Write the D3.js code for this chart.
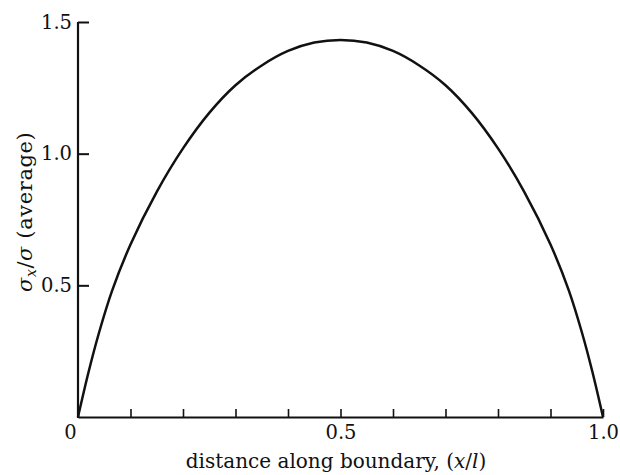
<!DOCTYPE html>
<html>
<head>
<meta charset="utf-8">
<script src="https://cdn.jsdelivr.net/npm/d3@7/dist/d3.min.js"></script>
<style>
  html, body { margin: 0; padding: 0; background: #fff; }
  svg { display: block; }
  text { font-family: "DejaVu Serif", "Liberation Serif", serif; fill: #111; }
</style>
</head>
<body>
<svg id="chart" width="620" height="475"></svg>
<script>
// Normalised position along the boundary (x/l)
const positions = [0, 0.02, 0.04, 0.065, 0.1, 0.15, 0.2, 0.25, 0.3, 0.35, 0.4, 0.45, 0.5,
                   0.55, 0.6, 0.65, 0.7, 0.75, 0.8, 0.85, 0.9, 0.935, 0.96, 0.98, 1.0];
// Stress ratio sigma_x / sigma(average) at each position
const stressRatio = [0, 0.17, 0.32, 0.48, 0.655, 0.855, 1.02, 1.155, 1.26, 1.335, 1.39, 1.422, 1.432,
                     1.422, 1.39, 1.335, 1.26, 1.155, 1.02, 0.855, 0.655, 0.48, 0.32, 0.17, 0];

const xTickValues = [0, 0.1, 0.2, 0.3, 0.4, 0.5, 0.6, 0.7, 0.8, 0.9, 1.0];
const xTickLabels = ["0", "", "", "", "", "0.5", "", "", "", "", "1.0"];
const yTickValues = [0.5, 1.0, 1.5];
const yTickLabels = ["0.5", "1.0", "1.5"];

const svg = d3.select("#chart");
const x = d3.scaleLinear().domain([0, 1]).range([78, 603]);
const y = d3.scaleLinear().domain([0, 1.5]).range([417, 22]);

const ink = "#111";

// x axis: baseline with short inward (upward) ticks
const xAxis = d3.axisBottom(x)
  .tickValues(xTickValues)
  .tickSizeInner(-8)
  .tickSizeOuter(0)
  .tickPadding(14)
  .tickFormat((d, i) => xTickLabels[i]);
const gx = svg.append("g").attr("transform", `translate(0,${y(0)})`).call(xAxis);
gx.select(".domain").attr("stroke", ink).attr("stroke-width", 2.2);
gx.selectAll(".tick line").attr("stroke", ink).attr("stroke-width", 1.6);
gx.selectAll(".tick text")
  .attr("font-size", 19.5)
  .attr("font-family", "DejaVu Serif")
  .attr("fill", ink)
  .attr("y", 8)
  .attr("dy", "0.71em")
  .attr("dx", d => d === 0 ? -8 : 0);

// y axis: vertical line with inward (rightward) ticks
const yAxis = d3.axisLeft(y)
  .tickValues(yTickValues)
  .tickSizeInner(-11)
  .tickSizeOuter(0)
  .tickPadding(17)
  .tickFormat((d, i) => yTickLabels[i]);
const gy = svg.append("g").attr("transform", `translate(${x(0)},0)`).call(yAxis);
gy.select(".domain").attr("stroke", ink).attr("stroke-width", 2.2)
  .attr("d", `M0,${y(0) + 1}V${y(1.5)}`);
gy.selectAll(".tick line").attr("stroke", ink).attr("stroke-width", 2);
gy.selectAll(".tick text")
  .attr("font-size", 19.5)
  .attr("font-family", "DejaVu Serif")
  .attr("fill", ink)
  .attr("x", -6);

// stress distribution curve
const line = d3.line()
  .x((d, i) => x(positions[i]))
  .y(d => y(d))
  .curve(d3.curveCatmullRom.alpha(0.5));
svg.append("path")
  .datum(stressRatio)
  .attr("d", line)
  .attr("fill", "none")
  .attr("stroke", ink)
  .attr("stroke-width", 2.5)
  .attr("stroke-linejoin", "round");

// x axis title
const xt = svg.append("text")
  .attr("x", 336)
  .attr("y", 468)
  .attr("text-anchor", "middle")
  .attr("font-size", 20);
xt.append("tspan").text("distance along boundary, (");
xt.append("tspan").attr("font-style", "italic").text("x");
xt.append("tspan").text("/");
xt.append("tspan").attr("font-style", "italic").text("l");
xt.append("tspan").text(")");

// y axis title, rotated
const yt = svg.append("text")
  .attr("transform", "translate(32,292) rotate(-90)")
  .attr("text-anchor", "start")
  .attr("font-size", 21)
  .attr("letter-spacing", 0.6);
yt.append("tspan").attr("font-style", "italic").text("σ");
yt.append("tspan").attr("font-style", "italic").attr("font-size", 14).attr("dy", 4).text("x");
yt.append("tspan").attr("dy", -4).text("/");
yt.append("tspan").attr("font-style", "italic").text("σ");
yt.append("tspan").text(" (average)");
</script>
</body>
</html>
